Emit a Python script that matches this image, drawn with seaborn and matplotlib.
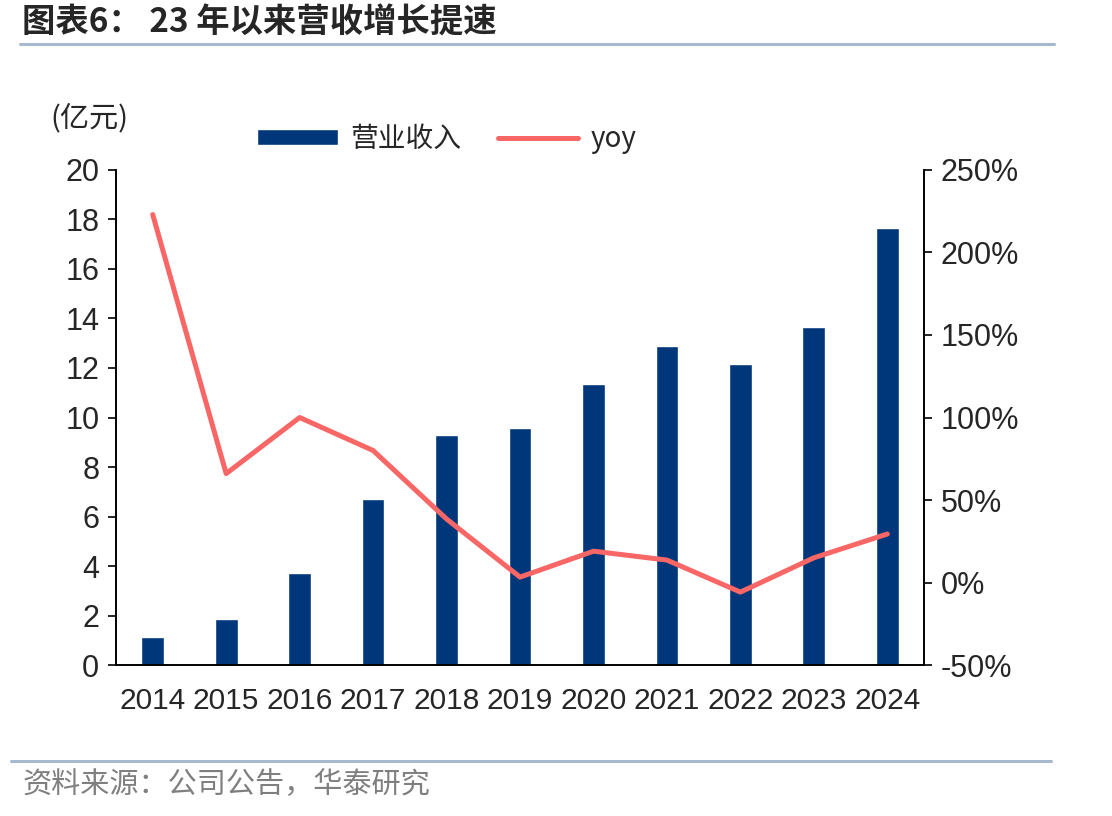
import matplotlib.pyplot as plt
import matplotlib.ticker as mticker
import numpy as np
import pandas as pd
import seaborn as sns

# chart data
years = ['2014', '2015', '2016', '2017', '2018', '2019', '2020', '2021', '2022', '2023', '2024']
revenue = [1.13, 1.86, 3.72, 6.71, 9.29, 9.58, 11.35, 12.89, 12.16, 13.66, 17.66]
yoy = [223, 66, 100, 80, 38.5, 3.3, 19, 13.6, -5.8, 15, 29.4]

df = pd.DataFrame({'year': years, 'revenue': revenue, 'yoy': yoy})
df['pos'] = np.arange(len(df))

sns.set_style('white')
plt.rcParams['font.family'] = ['Liberation Sans', 'Noto Sans CJK SC', 'DejaVu Sans']
cjk = ['Noto Sans CJK SC', 'DejaVu Sans']

bar_color = '#00377A'
line_color = '#F86666'

fig = plt.figure(figsize=(11.12, 8.16), dpi=100)
ax = fig.add_axes([0.1043, 0.185, 0.7267, 0.6067])

sns.barplot(data=df, x='year', y='revenue', color=bar_color, width=0.31,
            saturation=1, ax=ax, label='营业收入')

ax2 = ax.twinx()
sns.lineplot(data=df, x='pos', y='yoy', color=line_color, linewidth=3.6,
             ax=ax2, label='yoy', legend=False)

ax.set_xlim(-0.5, 10.5)
ax.set_ylim(0, 20)
ax.yaxis.set_major_locator(mticker.MultipleLocator(2))
ax2.set_ylim(-50, 250)
ax2.yaxis.set_major_locator(mticker.MultipleLocator(50))
ax2.yaxis.set_major_formatter(mticker.FuncFormatter(lambda v, p: f'{v:.0f}%'))

ax.set_xlabel('')
ax.set_ylabel('')
ax2.set_xlabel('')
ax2.set_ylabel('')

# tick marks between categories
ax.set_xticks(np.arange(len(years)))
ax.set_xticklabels(years)
ax.set_xticks(np.arange(-0.5, len(years), 1), minor=True)
ax.tick_params(axis='x', which='major', length=0, labelsize=21.5, pad=16)
ax.tick_params(axis='x', which='minor', length=8, width=1.2, direction='out', color='black')
ax.tick_params(axis='y', left=True, length=6, width=1.2, labelsize=22, pad=6, color='black')
ax2.tick_params(axis='y', right=True, length=6, width=1.2, labelsize=22, pad=6, color='black')

for a in (ax, ax2):
    a.spines['top'].set_visible(False)
    for s in ('left', 'right', 'bottom'):
        a.spines[s].set_color('black')
        a.spines[s].set_linewidth(1.2)
    a.grid(False)

# legend
h1, l1 = ax.get_legend_handles_labels()
h2, l2 = ax2.get_legend_handles_labels()
if ax.get_legend() is not None:
    ax.get_legend().remove()
fig.legend(h1 + h2, l1 + l2, loc='center', bbox_to_anchor=(0.402, 0.830), ncol=2,
           frameon=False, handlelength=2.9, handleheight=0.5,
           columnspacing=1.3, handletextpad=0.45, prop={'family': cjk, 'size': 20})

fig.text(0.045, 0.855, '(亿元)', fontsize=21, family=cjk, ha='left', va='center')

# title and footer
fig.text(0.02, 0.972, '图表6： 23 年以来营收增长提速', fontsize=24, fontweight='bold',
         family=cjk, ha='left', va='center')
fig.add_artist(plt.Line2D([0.018, 0.948], [0.946, 0.946], color='#A7B9CF', linewidth=2.2))
fig.add_artist(plt.Line2D([0.01, 0.945], [0.067, 0.067], color='#A7B9CF', linewidth=2.2))
fig.text(0.02, 0.038, '资料来源：公司公告，华泰研究', fontsize=21, color='#7F7F7F',
         family=cjk, ha='left', va='center')

fig.savefig('out.png', dpi=100)
